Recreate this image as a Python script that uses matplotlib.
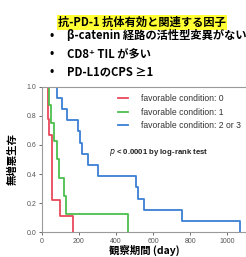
import matplotlib
matplotlib.use("Agg")
import matplotlib.pyplot as plt
from matplotlib.lines import Line2D

# Data (Kaplan-Meier step curves: time in days, survival after the step)
red_t = [0, 31, 41, 54, 99, 166]
red_s = [1.0, 0.778, 0.667, 0.222, 0.111, 0.0]
green_t = [0, 36, 49, 63, 81, 90, 117, 130, 465]
green_s = [1.0, 0.875, 0.75, 0.625, 0.5, 0.375, 0.25, 0.125, 0.0]
blue_t = [0, 81, 110, 135, 195, 207, 216, 249, 301, 508, 519, 553, 753, 1070]
blue_s = [1.0, 0.923, 0.846, 0.769, 0.692, 0.615, 0.538, 0.462, 0.385, 0.308,
          0.231, 0.154, 0.077, 0.0]
labels = ["favorable condition: 0", "favorable condition: 1", "favorable condition: 2 or 3"]
colors = ["#e8495a", "#4cbf4c", "#3a7fd6"]
xticks = [0, 200, 400, 600, 800, 1000]
yticks = [0.0, 0.2, 0.4, 0.6, 0.8, 1.0]

jp = ["Noto Sans CJK JP", "DejaVu Sans"]

fig = plt.figure(figsize=(2.46, 2.57), dpi=100)
ax = fig.add_axes([0.17, 0.096, 0.83, 0.567])

for t, s, c in zip([red_t, green_t, blue_t], [red_s, green_s, blue_s], colors):
    ax.step(t, s, where="post", color=c, lw=1.3)

ax.set_xlim(0, 1100)
ax.set_ylim(0, 1.0)
ax.set_xticks(xticks)
ax.set_yticks(yticks)
ax.set_yticklabels([f"{v:.1f}" for v in yticks])
ax.tick_params(labelsize=5, colors="#555555", length=2, width=0.6, pad=2)
for sp in ax.spines.values():
    sp.set_color("#9a9a9a")
    sp.set_linewidth(0.8)
ax.spines["right"].set_visible(False)
for lab in ax.get_xticklabels() + ax.get_yticklabels():
    lab.set_fontfamily("Liberation Sans")

handles = [Line2D([0], [0], color=c, lw=1.3) for c in colors]
leg = ax.legend(handles, labels, loc="upper right", bbox_to_anchor=(1.0, 0.985),
                frameon=False, handlelength=1.2, handletextpad=1.5,
                labelspacing=0.55, borderaxespad=0.2,
                prop={"family": "Liberation Sans", "size": 6.2})
for txt in leg.get_texts():
    txt.set_color("#333333")

ax.text(0.33, 0.55, r"$\it{p}$ < 0.0001 by log-rank test", transform=ax.transAxes,
        fontsize=5.6, fontweight="bold", family="Liberation Sans", color="#222222",
        va="center")

ax.set_ylabel("無増悪生存", family=jp, fontsize=7.5, fontweight="bold", labelpad=6)
ax.set_xlabel("観察期間 (day)", family=jp, fontsize=7.5, fontweight="bold", labelpad=0)

# Header text
fig.text(0.578, 0.912, "抗-PD-1 抗体有効と関連する因子", family=jp, fontsize=8.1,
         fontweight="bold", ha="center", va="center",
         bbox=dict(facecolor="#ffff33", edgecolor="none", pad=0.6))
bullets = ["β-catenin 経路の活性型変異がない", "CD8⁺ TIL が多い", "PD-L1のCPS ≥1"]
ys = [0.862, 0.792, 0.72]
for b, y in zip(bullets, ys):
    fig.text(0.21, y, "•", family=jp, fontsize=8.1, fontweight="bold", ha="center", va="center")
    fig.text(0.272, y, b, family=jp, fontsize=8.1, fontweight="bold", ha="left", va="center")

fig.savefig("out.png", dpi=100)
